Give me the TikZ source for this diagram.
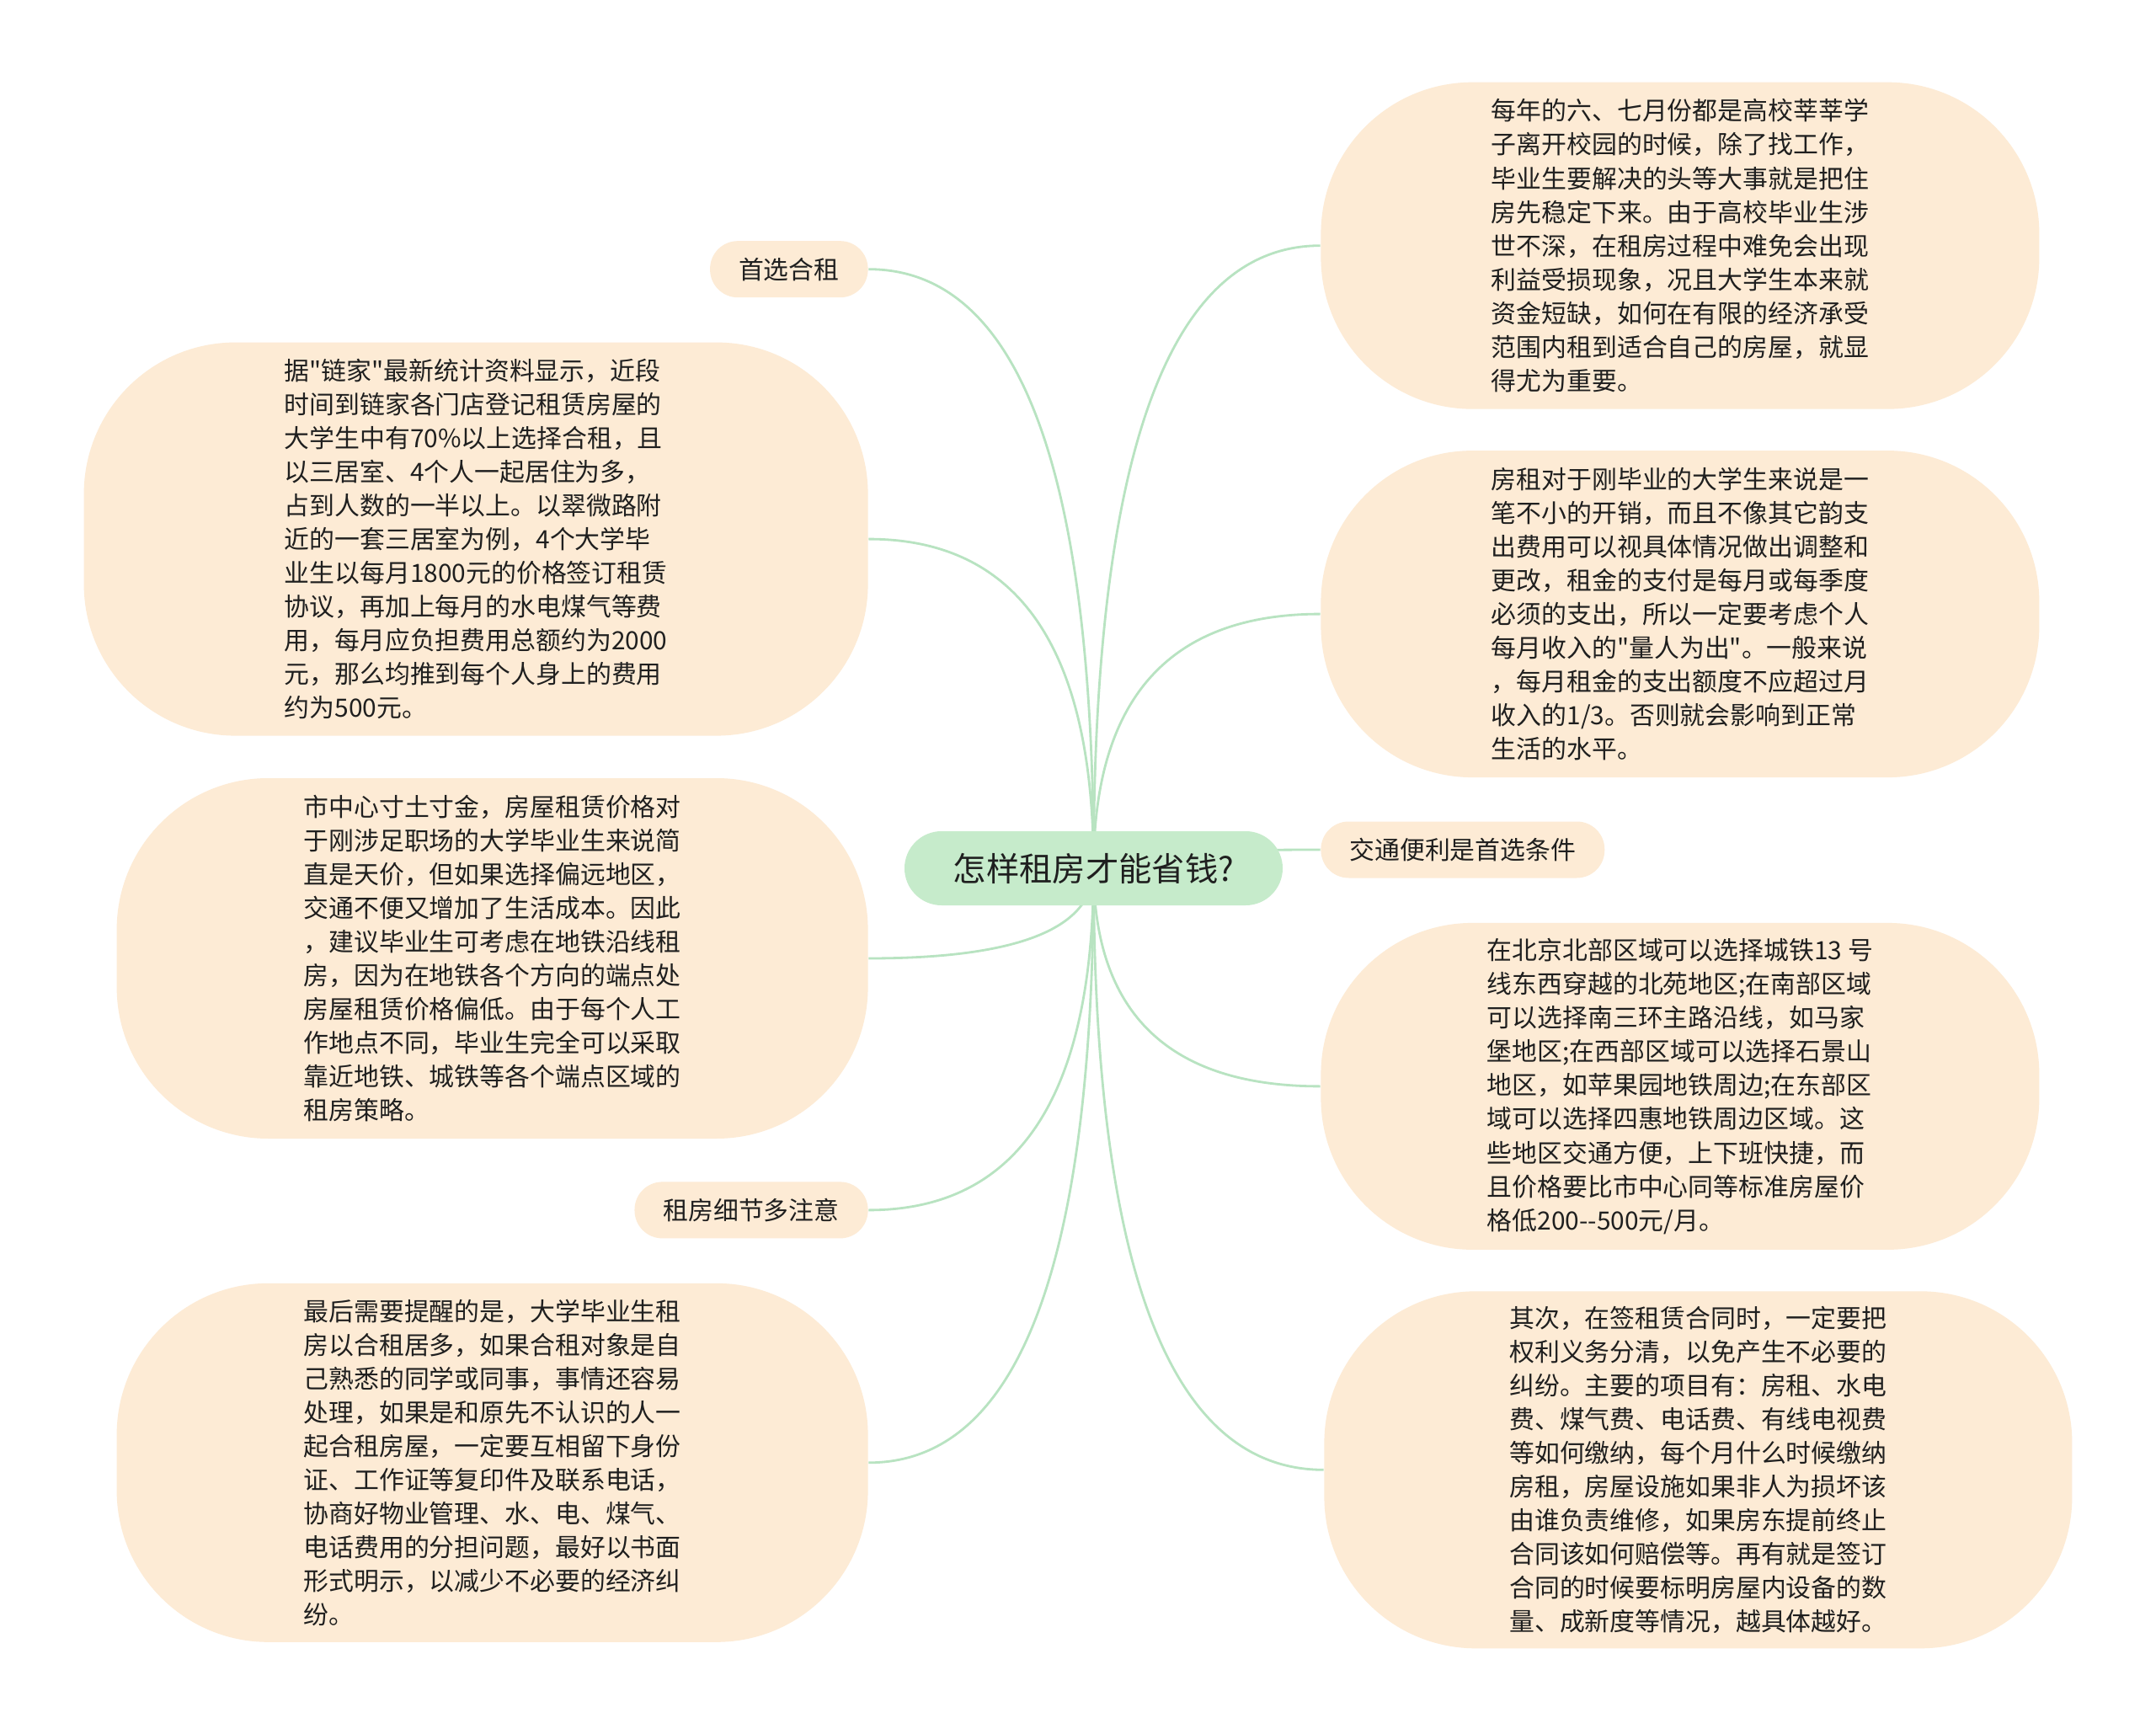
\documentclass[tikz,border=0pt]{standalone}
\usepackage{fontspec}
\setmainfont{Noto Sans CJK SC}[Ligatures=TeXOff]
\usepackage{tikz}
\usetikzlibrary{positioning, calc, backgrounds}
\definecolor{peach}{HTML}{FDEBD5}
\definecolor{rootgreen}{HTML}{C6EBCB}
\definecolor{linegreen}{HTML}{B8E3C1}
\definecolor{inkgray}{HTML}{1F1F1F}

\begin{document}
\begin{tikzpicture}
	\tikzstyle{topic} = [rectangle, rounded corners=0.44cm, fill=rootgreen, 
	minimum width=4.49cm, minimum height=0.88cm, text=inkgray, 
	font=\fontsize{11.2pt}{13pt}\selectfont]
	\tikzstyle{tag} = [rectangle, rounded corners=0.33cm, fill=peach, 
	minimum height=0.67cm, inner xsep=0.34cm, text=inkgray, 
	font=\fontsize{8.5pt}{11.4pt}\selectfont]
	\tikzstyle{note} = [rectangle, rounded corners=1.8cm, fill=peach, 
	inner sep=0pt, align=left, text=inkgray, 
	font=\fontsize{8.5pt}{11.4pt}\selectfont]
	\tikzstyle{branch} = [draw=linegreen, line width=0.8pt, 
	to path={.. controls ($(\tikztostart)!0.667!(\tikztostart |- \tikztotarget)$) 
	and ($(\tikztotarget)!0.667!(\tikztostart |- \tikztotarget)$) .. (\tikztotarget)}]
	\useasboundingbox (0,0) rectangle (25.6,-20.59);
	\node (root) [topic] at (12.985,-10.31) {怎样租房才能省钱?};
	% right side
	\node (r3) [tag, right=0.44cm of root, yshift=0.22cm] {交通便利是首选条件};
	\node (r2) [note, minimum width=8.53cm, minimum height=3.88cm, 
	above=0.51cm of r3.north west, anchor=south west] {房租对于刚毕业的大学生来说是一\\笔不小的开销，而且不像其它韵支\\出费用可以视具体情况做出调整和\\更改，租金的支付是每月或每季度\\必须的支出，所以一定要考虑个人\\每月收入的"量人为出"。一般来说\\，每月租金的支出额度不应超过月\\收入的1/3。否则就会影响到正常\\生活的水平。};
	\node (r1) [note, minimum width=8.53cm, minimum height=3.88cm, 
	above=0.48cm of r2.north west, anchor=south west] {每年的六、七月份都是高校莘莘学\\子离开校园的时候，除了找工作，\\毕业生要解决的头等大事就是把住\\房先稳定下来。由于高校毕业生涉\\世不深，在租房过程中难免会出现\\利益受损现象，况且大学生本来就\\资金短缺，如何在有限的经济承受\\范围内租到适合自己的房屋，就显\\得尤为重要。};
	\node (r4) [note, minimum width=8.53cm, minimum height=3.88cm, 
	below=0.52cm of r3.south west, anchor=north west] {在北京北部区域可以选择城铁13 号\\线东西穿越的北苑地区;在南部区域\\可以选择南三环主路沿线，如马家\\堡地区;在西部区域可以选择石景山\\地区，如苹果园地铁周边;在东部区\\域可以选择四惠地铁周边区域。这\\些地区交通方便，上下班快捷，而\\且价格要比市中心同等标准房屋价\\格低200--500元/月。};
	\node (r5) [note, minimum width=8.88cm, minimum height=4.24cm, 
	below=0.48cm of r4.south west, anchor=north west, xshift=0.04cm] {其次，在签租赁合同时，一定要把\\权利义务分清，以免产生不必要的\\纠纷。主要的项目有：房租、水电\\费、煤气费、电话费、有线电视费\\等如何缴纳，每个月什么时候缴纳\\房租，房屋设施如果非人为损坏该\\由谁负责维修，如果房东提前终止\\合同该如何赔偿等。再有就是签订\\合同的时候要标明房屋内设备的数\\量、成新度等情况，越具体越好。};
	% left side
	\node (l3) [note, minimum width=8.92cm, minimum height=4.28cm, 
	left=0.42cm of root.west, anchor=east, yshift=-1.07cm] {市中心寸土寸金，房屋租赁价格对\\于刚涉足职场的大学毕业生来说简\\直是天价，但如果选择偏远地区，\\交通不便又增加了生活成本。因此\\，建议毕业生可考虑在地铁沿线租\\房，因为在地铁各个方向的端点处\\房屋租赁价格偏低。由于每个人工\\作地点不同，毕业生完全可以采取\\靠近地铁、城铁等各个端点区域的\\租房策略。};
	\node (l2) [note, minimum width=9.31cm, minimum height=4.67cm, 
	above=0.49cm of l3.north east, anchor=south east] {据"链家"最新统计资料显示，近段\\时间到链家各门店登记租赁房屋的\\大学生中有70\%以上选择合租，且\\以三居室、4个人一起居住为多，\\占到人数的一半以上。以翠微路附\\近的一套三居室为例，4个大学毕\\业生以每月1800元的价格签订租赁\\协议，再加上每月的水电煤气等费\\用，每月应负担费用总额约为2000\\元，那么均推到每个人身上的费用\\约为500元。};
	\node (l1) [tag, above=0.52cm of l2.north east, anchor=south east] {首选合租};
	\node (l4) [tag, below=0.50cm of l3.south east, anchor=north east] {租房细节多注意};
	\node (l5) [note, minimum width=8.92cm, minimum height=4.26cm, 
	below=0.52cm of l4.south east, anchor=north east] {最后需要提醒的是，大学毕业生租\\房以合租居多，如果合租对象是自\\己熟悉的同学或同事，事情还容易\\处理，如果是和原先不认识的人一\\起合租房屋，一定要互相留下身份\\证、工作证等复印件及联系电话，\\协商好物业管理、水、电、煤气、\\电话费用的分担问题，最好以书面\\形式明示，以减少不必要的经济纠\\纷。};
	\begin{scope}[on background layer]
	\fill [white] (0,0) rectangle (25.6,-20.59);
	\draw [branch] (root.center) to (r1.west);
	\draw [branch] (root.center) to (r2.west);
	\draw [branch] (root.center) to (r3.west);
	\draw [branch] (root.center) to (r4.west);
	\draw [branch] (root.center) to (r5.west);
	\draw [branch] (root.center) to (l1.east);
	\draw [branch] (root.center) to (l2.east);
	\draw [branch] (root.center) to (l3.east);
	\draw [branch] (root.center) to (l4.east);
	\draw [branch] (root.center) to (l5.east);
	\end{scope}
\end{tikzpicture}
\end{document}
